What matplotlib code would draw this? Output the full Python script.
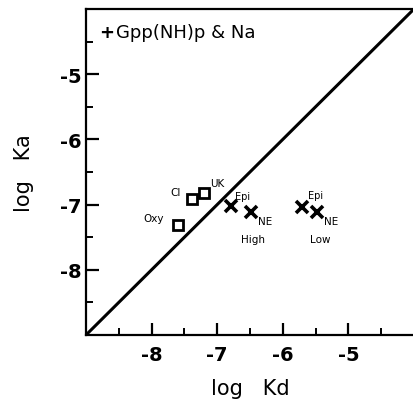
import matplotlib.pyplot as plt
from matplotlib.ticker import MultipleLocator

plt.rcParams['axes.unicode_minus'] = False

# open squares (log Kd, log Ka)
sq_x = [-7.59, -7.39, -7.20]
sq_y = [-7.31, -6.91, -6.82]
sq_labels = ["Oxy", "Cl", "UK"]

# crosses: high and low affinity
hi_x = [-6.79, -6.48]
hi_y = [-7.02, -7.11]
lo_x = [-5.70, -5.48]
lo_y = [-7.03, -7.11]
cross_labels = ["Epi", "NE"]

ticks = [-8, -7, -6, -5]
lims = [-9, -4]

fig = plt.figure(figsize=(4.14, 4.06), dpi=100)
ax = fig.add_axes([0.2077, 0.1724, 0.7923, 0.803])

ax.plot(lims, lims, color="black", lw=2.2, solid_capstyle="butt")
ax.plot(sq_x, sq_y, ls="none", marker="s", ms=7, mfc="white", mec="black", mew=2)
ax.plot(hi_x, hi_y, ls="none", marker="x", ms=8.5, color="black", mew=2.6)
ax.plot(lo_x, lo_y, ls="none", marker="x", ms=8.5, color="black", mew=2.6)

# point labels
ax.annotate(sq_labels[0], (sq_x[0], sq_y[0]), xytext=(-25, 3), textcoords="offset points", fontsize=7.5)
ax.annotate(sq_labels[1], (sq_x[1], sq_y[1]), xytext=(-15, 3), textcoords="offset points", fontsize=7.5)
ax.annotate(sq_labels[2], (sq_x[2], sq_y[2]), xytext=(4, 5), textcoords="offset points", fontsize=7.5)
ax.annotate(cross_labels[0], (hi_x[0], hi_y[0]), xytext=(3, 5), textcoords="offset points", fontsize=7)
ax.annotate(cross_labels[1], (hi_x[1], hi_y[1]), xytext=(5, -9), textcoords="offset points", fontsize=7.5)
ax.annotate(cross_labels[0], (lo_x[0], lo_y[0]), xytext=(4, 6), textcoords="offset points", fontsize=7)
ax.annotate(cross_labels[1], (lo_x[1], lo_y[1]), xytext=(5, -9), textcoords="offset points", fontsize=7.5)
ax.text(-6.45, -7.57, "High", fontsize=7.5, ha="center")
ax.text(-5.43, -7.57, "Low", fontsize=7.5, ha="center")

ax.text(-8.68, -4.35, "+", fontsize=13, fontweight="bold", ha="center", va="center")
ax.text(-8.55, -4.35, "Gpp(NH)p & Na", fontsize=13, va="center")

ax.set_xlim(lims)
ax.set_ylim(lims)
ax.set_xticks(ticks)
ax.set_yticks(ticks)
ax.set_xticklabels([str(t) for t in ticks], fontweight="bold")
ax.set_yticklabels([str(t) for t in ticks], fontweight="bold")
ax.xaxis.set_minor_locator(MultipleLocator(0.5))
ax.yaxis.set_minor_locator(MultipleLocator(0.5))
ax.tick_params(which="major", direction="in", length=9, width=1.6, labelsize=14)
ax.tick_params(axis="x", which="major", pad=7)
ax.tick_params(axis="y", which="major", pad=3)
ax.tick_params(which="minor", direction="in", length=5, width=1.4)
ax.spines["right"].set_visible(False)
for s in ["left", "bottom", "top"]:
    ax.spines[s].set_linewidth(1.6)

ax.set_xlabel("log   Kd", fontsize=15, labelpad=10)
ax.set_ylabel("log   Ka", fontsize=15, labelpad=19)

fig.savefig("out.png", dpi=100)
